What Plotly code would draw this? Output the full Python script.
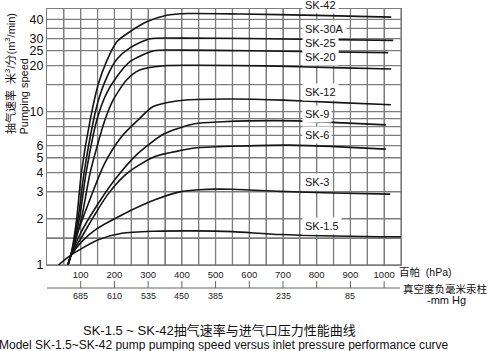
import plotly.graph_objects as go

# ---------------- data ----------------
x_grid_hpa = [50, 100, 150, 200, 250, 300, 350, 400, 450, 500, 550, 600, 650, 700,
              750, 800, 850, 900, 950, 1000, 1050]
x_labels_hpa = [100, 200, 300, 400, 500, 600, 700, 800, 900, 1000]
mmhg_text = ["685", "610", "535", "450", "385", "", "235", "", "85", ""]
y_grid = [1, 1.5, 2, 3, 4, 5, 6, 7, 8, 9, 10, 15, 20, 25, 30, 35, 40]
y_labels = [1, 2, 3, 4, 5, 6, 10, 20, 25, 30, 40]

sk42_x = [62, 71, 88, 102, 128, 152, 177, 207, 251, 296, 355, 420, 573, 800, 1021]
sk42_y = [1.0, 1.16, 2.0, 4.0, 8.8, 15.1, 21.4, 28.6, 33.8, 38.6, 42.6, 43.7, 43.4, 42.5, 41.4]
sk30a_x = [62, 71, 92, 110, 138, 152, 177, 207, 246, 306, 400, 600, 800, 1027]
sk30a_y = [1.0, 1.16, 2.0, 4.0, 8.8, 11.8, 16.7, 22.0, 26.1, 29.9, 30.2, 30.0, 29.6, 29.2]
sk25_x = [62, 71, 96, 116, 148, 177, 207, 246, 317, 400, 600, 800, 1012]
sk25_y = [1.0, 1.16, 2.0, 4.0, 8.85, 13.2, 16.9, 21.2, 25.0, 25.2, 25.0, 24.6, 24.3]
sk20_x = [62, 71, 102, 128, 172, 196, 236, 275, 355, 450, 650, 850, 1021]
sk20_y = [1.0, 1.16, 2.0, 4.0, 8.85, 11.9, 16.1, 18.7, 20.0, 20.1, 19.9, 19.4, 19.0]
sk12_x = [62, 71, 90, 123, 171, 221, 270, 315, 380, 443, 550, 700, 850, 1020]
sk12_y = [1.0, 1.16, 1.6, 2.53, 4.6, 6.87, 8.83, 10.8, 11.7, 12.0, 12.1, 11.9, 11.5, 11.1]
sk9_x = [62, 71, 102, 151, 201, 270, 349, 438, 520, 600, 740, 880, 1005]
sk9_y = [1.0, 1.16, 1.65, 2.5, 3.6, 5.35, 7.2, 8.35, 8.6, 8.72, 8.72, 8.45, 8.2]
sk6_x = [62, 71, 105, 140, 181, 240, 320, 400, 438, 550, 720, 870, 1005]
sk6_y = [1.0, 1.16, 1.55, 2.1, 2.9, 4.0, 5.1, 5.6, 5.8, 5.95, 6.05, 5.9, 5.7]
sk3_x = [71, 103, 142, 222, 320, 394, 450, 543, 691, 850, 1018]
sk3_y = [1.16, 1.42, 1.69, 2.12, 2.66, 3.0, 3.1, 3.12, 3.02, 2.95, 2.9]
sk15_x = [34, 71, 152, 222, 320, 439, 550, 691, 988, 1050]
sk15_y = [1.0, 1.16, 1.46, 1.61, 1.66, 1.67, 1.65, 1.58, 1.53, 1.53]

series = [
    ("SK-42", sk42_x, sk42_y),
    ("SK-30A", sk30a_x, sk30a_y),
    ("SK-25", sk25_x, sk25_y),
    ("SK-20", sk20_x, sk20_y),
    ("SK-12", sk12_x, sk12_y),
    ("SK-9", sk9_x, sk9_y),
    ("SK-6", sk6_x, sk6_y),
    ("SK-3", sk3_x, sk3_y),
    ("SK-1.5", sk15_x, sk15_y),
]

# ---------------- layout geometry (pixels) ----------------
W, H = 500, 351
L, R, T, B = 47, 99, 9, 86
PW, PH = W - L - R, H - T - B
X_MAX = 1050
Y_LOG_MAX = 1.67
Y_TOP = 10 ** Y_LOG_MAX

def px(xp):
    return (xp - L) / PW

def py(yp):
    return (H - B - yp) / PH

FONT = "Liberation Sans, Arial, Noto Sans CJK SC, sans-serif"
GRID = "#7d7d7d"

fig = go.Figure()

# grid drawn as one line trace under the curves
gx, gy = [], []
for xv in x_grid_hpa:
    gx += [xv, xv, None]
    gy += [1, Y_TOP, None]
for yv in y_grid:
    gx += [0, X_MAX, None]
    gy += [yv, yv, None]
fig.add_trace(go.Scatter(x=gx, y=gy, mode="lines", line=dict(color=GRID, width=1.3),
                         showlegend=False, hoverinfo="skip", connectgaps=False, cliponaxis=False))

for name, xs, ys in series:
    fig.add_trace(go.Scatter(x=xs, y=ys, mode="lines", name=name,
                             line=dict(color="#151515", width=1.6, shape="spline", smoothing=0.7),
                             showlegend=False, hoverinfo="skip"))

label_pos = {"SK-42": 4.5, "SK-30A": 29, "SK-25": 43, "SK-20": 57, "SK-12": 91.5,
             "SK-9": 114, "SK-6": 135, "SK-3": 182, "SK-1.5": 226}
annotations = []
for name, _, _ in series:
    annotations.append(dict(x=px(302), y=py(label_pos[name]), xref="paper", yref="paper",
                            text=name, showarrow=False, xanchor="left", yanchor="middle",
                            bgcolor="white", borderpad=2,
                            font=dict(family=FONT, size=11, color="#111")))

# mmHg secondary scale
shapes = [dict(type="line", xref="paper", yref="paper", x0=0, x1=px(400), y0=py(288), y1=py(288),
               line=dict(color="#666", width=1))]
for xv, t in zip(x_labels_hpa, mmhg_text):
    shapes.append(dict(type="line", xref="x", yref="paper", x0=xv, x1=xv, y0=py(288), y1=py(281),
                       line=dict(color="#666", width=1)))
    if t:
        annotations.append(dict(x=xv, y=py(295.5), xref="x", yref="paper", text=t, showarrow=False,
                                xanchor="center", yanchor="middle",
                                font=dict(family=FONT, size=9, color="#222")))

annotations += [
    dict(x=px(397), y=py(272), xref="paper", yref="paper", text="百帕  (hPa)", showarrow=False,
         xanchor="left", yanchor="middle", font=dict(family=FONT, size=10.5, color="#111")),
    dict(x=px(445), y=py(288.5), xref="paper", yref="paper", text="真空度负毫米汞柱", showarrow=False,
         xanchor="center", yanchor="middle", font=dict(family=FONT, size=10.5, color="#111")),
    dict(x=px(446), y=py(300), xref="paper", yref="paper", text="-mm Hg", showarrow=False,
         xanchor="center", yanchor="middle", font=dict(family=FONT, size=11, color="#111")),
    dict(x=px(10), y=py(74), xref="paper", yref="paper",
         text="抽气速率  米<sup>3</sup>/分(m<sup>3</sup>/min)", textangle=-90, showarrow=False,
         xanchor="center", yanchor="middle", font=dict(family=FONT, size=11, color="#111")),
    dict(x=px(23), y=py(96.5), xref="paper", yref="paper", text="Pumping speed", textangle=-90,
         showarrow=False, xanchor="center", yanchor="middle", font=dict(family=FONT, size=11, color="#111")),
    dict(x=px(219.5), y=py(330), xref="paper", yref="paper",
         text="SK-1.5 ~ SK-42抽气速率与进气口压力性能曲线", showarrow=False,
         xanchor="center", yanchor="middle", font=dict(family=FONT, size=13, color="#111")),
    dict(x=px(224), y=py(345), xref="paper", yref="paper",
         text="Model SK-1.5~SK-42 pump pumping speed versus inlet pressure performance curve",
         showarrow=False, xanchor="center", yanchor="middle", font=dict(family=FONT, size=12, color="#111")),
]

x_ticktext = [str(v) if v in x_labels_hpa else "" for v in x_grid_hpa]
y_ticktext = [str(v) if v in y_labels else "" for v in y_grid]

fig.update_layout(
    width=W, height=H, autosize=False,
    margin=dict(l=L, r=R, t=T, b=B, pad=0),
    paper_bgcolor="white", plot_bgcolor="white",
    font=dict(family=FONT, color="#111"),
    annotations=annotations, shapes=shapes,
    xaxis=dict(range=[0, X_MAX], tickmode="array", tickvals=x_grid_hpa,
               ticktext=x_ticktext, ticks="", showgrid=True,
               gridcolor=GRID, gridwidth=1.3, zeroline=False,
               showline=True, linecolor=GRID, linewidth=1.3, mirror=True,
               tickfont=dict(size=9.5, color="#222")),
    yaxis=dict(type="log", range=[0, Y_LOG_MAX], tickmode="array", tickvals=y_grid,
               ticktext=y_ticktext, ticks="", showgrid=True,
               gridcolor=GRID, gridwidth=1.3, zeroline=False,
               showline=True, linecolor=GRID, linewidth=1.3, mirror=True,
               tickfont=dict(size=12.5, color="#111")),
)

fig.write_html("out.html", config={"displayModeBar": False})
